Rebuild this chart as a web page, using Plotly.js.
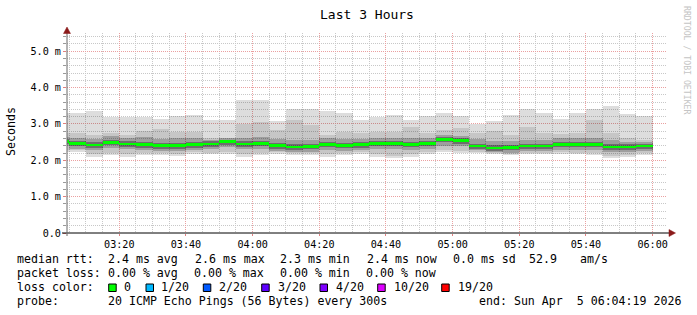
<!DOCTYPE html>
<html>
<head>
<meta charset="utf-8">
<script src="https://cdn.plot.ly/plotly-3.0.1.min.js"></script>
<style>html,body{margin:0;padding:0;background:#fff;}#chart{width:697px;height:315px;}</style>
</head>
<body>
<div id="chart"></div>
<script>
// interval start times (5 minute steps, 20 pings each)
const day = '2026-04-05 ';
const times = ['03:00','03:05','03:10','03:15','03:20','03:25','03:30','03:35','03:40','03:45','03:50','03:55',
               '04:00','04:05','04:10','04:15','04:20','04:25','04:30','04:35','04:40','04:45','04:50','04:55',
               '05:00','05:05','05:10','05:15','05:20','05:25','05:30','05:35','05:40','05:45','05:50','05:55'];
// smoke bands (ms)
const maxv = [3.30,3.30,3.36,3.18,3.19,3.19,3.13,3.21,3.25,3.10,3.10,3.65,3.65,3.08,3.40,3.40,3.35,3.30,3.10,3.19,3.24,3.10,3.21,3.29,3.21,3.01,3.08,3.24,3.41,3.29,3.13,3.30,3.41,3.50,3.27,3.21];
const hi2  = [2.75,2.75,2.70,2.76,2.70,2.80,2.86,2.77,2.79,2.62,2.62,3.01,3.06,2.83,3.10,2.97,2.70,2.79,2.76,2.79,2.79,2.92,2.75,2.83,2.90,2.76,2.80,2.70,2.92,2.76,2.72,2.74,3.10,2.75,2.60,2.55];
const hi3  = [2.64,2.60,2.58,2.66,2.62,2.63,2.58,2.60,2.60,2.57,2.62,2.62,2.63,2.58,2.55,2.56,2.60,2.58,2.58,2.62,2.62,2.62,2.62,2.70,2.68,2.58,2.52,2.52,2.56,2.56,2.60,2.60,2.62,2.55,2.50,2.50];
const hi4  = [2.58,2.52,2.49,2.55,2.52,2.50,2.47,2.48,2.50,2.52,2.57,2.52,2.53,2.47,2.44,2.45,2.51,2.48,2.50,2.53,2.53,2.51,2.53,2.63,2.61,2.46,2.41,2.42,2.46,2.46,2.51,2.51,2.51,2.44,2.44,2.46];
const med  = [2.52,2.46,2.42,2.49,2.45,2.43,2.40,2.40,2.43,2.45,2.51,2.45,2.46,2.40,2.37,2.38,2.44,2.41,2.43,2.46,2.46,2.44,2.46,2.57,2.54,2.39,2.34,2.35,2.39,2.39,2.44,2.44,2.44,2.37,2.37,2.39];
const lo4  = [2.44,2.38,2.34,2.41,2.37,2.35,2.32,2.32,2.35,2.37,2.43,2.37,2.38,2.32,2.29,2.30,2.36,2.33,2.35,2.38,2.38,2.36,2.38,2.49,2.46,2.31,2.26,2.27,2.31,2.31,2.36,2.36,2.36,2.29,2.29,2.31];
const lo3  = [2.38,2.32,2.27,2.34,2.30,2.29,2.26,2.25,2.29,2.31,2.36,2.30,2.31,2.26,2.23,2.24,2.29,2.26,2.29,2.30,2.30,2.29,2.31,2.40,2.38,2.27,2.22,2.21,2.25,2.25,2.29,2.28,2.28,2.22,2.22,2.25];
const lo2  = [2.28,2.28,2.16,2.20,2.16,2.20,2.20,2.18,2.22,2.21,2.22,2.16,2.20,2.22,2.20,2.19,2.16,2.19,2.22,2.16,2.12,2.16,2.22,2.28,2.26,2.24,2.20,2.18,2.21,2.21,2.22,2.21,2.19,2.13,2.15,2.19];
const minv = [2.23,2.23,2.10,2.14,2.10,2.14,2.15,2.12,2.17,2.16,2.16,2.10,2.14,2.17,2.14,2.14,2.10,2.14,2.17,2.10,2.05,2.10,2.17,2.22,2.20,2.20,2.17,2.14,2.17,2.17,2.17,2.17,2.14,2.07,2.10,2.14];

const yTickVals = [0, 1, 2, 3, 4, 5];
const yTickText = ['0.0', '1.0 m', '2.0 m', '3.0 m', '4.0 m', '5.0 m'];

const lossLabels = ['0', '1/20', '2/20', '3/20', '4/20', '10/20', '19/20'];
const lossColors = ['#00ff00', '#00b8ff', '#0059ff', '#5e00ff', '#7e00ff', '#dd00ff', '#ff0000'];

const statLine1 = ['median rtt:', '2.4 ms avg', '2.6 ms max', '2.3 ms min', '2.4 ms now', '0.0 ms sd', '52.9', 'am/s'];
const statLine2 = ['packet loss:', '0.00 % avg', '0.00 % max', '0.00 % min', '0.00 % now'];
const probeText = '20 ICMP Echo Pings (56 Bytes) every 300s';
const endText = 'end: Sun Apr\u00a0\u00a05 06:04:19 2026';

const X = times.map(t => day + t + ':00');
const STEP = 300000;
const FONT = 'DejaVu Sans Mono';

function band(lo, hi, color) {
  return {
    type: 'bar', x: X, base: lo, y: hi.map((v, i) => v - lo[i]),
    width: STEP, offset: 0, marker: {color: color, line: {width: 0}},
    hoverinfo: 'skip', showlegend: false
  };
}
const traces = [
  band(minv, maxv, 'rgba(0,0,0,0.135)'),
  band(lo2, hi2, 'rgba(0,0,0,0.10)'),
  band(lo3, hi3, 'rgba(0,0,0,0.20)'),
  band(lo4, hi4, 'rgba(0,0,0,0.30)'),
  band(med.map(v => v - 0.035), med.map(v => v + 0.035), '#00ff00')
];

// layout helpers: pixel -> paper
const L = 67, R = 667, T = 33, B = 233;
const px = v => (v - L) / (R - L);
const py = v => (B - v) / (B - T);
const P = (x, y) => px(x).toFixed(5) + ',' + py(y).toFixed(5);

const ann = [];
function txt(x, y, s, opts) {
  ann.push(Object.assign({xref: 'paper', yref: 'paper', x: px(x), y: py(y), text: s, showarrow: false,
    xanchor: 'left', yanchor: 'middle', font: {family: FONT, size: 11.6, color: '#000'}, borderpad: 0}, opts || {}));
}
const line1X = [16, 107.3, 194, 279.3, 365.7, 451.7, 528.3, 579.3];
statLine1.forEach((s, i) => txt(line1X[i], 259, s));
const line2X = [16, 107.3, 193.3, 279.3, 365];
statLine2.forEach((s, i) => txt(line2X[i], 273, s));
txt(16, 287, 'loss color:');
const boxX = [108.7, 146, 203.3, 261.7, 320, 377.7, 441.7];
const labX = [123.3, 160, 218.3, 276.7, 335, 393.3, 456.7];
lossLabels.forEach((s, i) => txt(labX[i], 287, s));
txt(16, 301, 'probe:');
txt(107.3, 301, probeText);
txt(478.3, 301, endText);
// y title
ann.push({xref: 'paper', yref: 'paper', x: px(11), y: py(132), text: 'Seconds', textangle: -90, showarrow: false,
  xanchor: 'center', yanchor: 'middle', font: {family: FONT, size: 11.6, color: '#000'}});
// watermark
ann.push({xref: 'paper', yref: 'paper', x: px(687), y: py(60), text: 'RRDTOOL / TOBI OETIKER', textangle: 90, showarrow: false,
  xanchor: 'center', yanchor: 'middle', font: {family: FONT, size: 8.2, color: '#c4c4c4'}});

const shapes = [];
lossColors.forEach((c, i) => {
  shapes.push({type: 'rect', xref: 'paper', yref: 'paper', x0: px(boxX[i]), x1: px(boxX[i] + 7.5), y0: py(284), y1: py(291.5),
    fillcolor: c, line: {color: '#000', width: 1}});
});
// x axis line with arrow
shapes.push({type: 'line', xref: 'paper', yref: 'paper', x0: px(62), x1: px(670), y0: 0, y1: 0, line: {color: '#000', width: 1}});
shapes.push({type: 'path', xref: 'paper', yref: 'paper',
  path: 'M' + P(669, 229.5) + ' L' + P(675.5, 233) + ' L' + P(669, 236.5) + ' Z',
  fillcolor: '#8b1a1a', line: {color: '#8b1a1a', width: 0.5}});
// y axis line with arrow
shapes.push({type: 'line', xref: 'paper', yref: 'paper', x0: 0, x1: 0, y0: py(236), y1: py(32), line: {color: '#666', width: 1}});
shapes.push({type: 'path', xref: 'paper', yref: 'paper',
  path: 'M' + P(63.5, 33.5) + ' L' + P(67, 27) + ' L' + P(70.5, 33.5) + ' Z',
  fillcolor: '#8b1a1a', line: {color: '#8b1a1a', width: 0.5}});

const layout = {
  width: 697, height: 315,
  margin: {l: L, r: 697 - R, t: T, b: 315 - B, pad: 0},
  paper_bgcolor: '#ffffff', plot_bgcolor: '#ffffff',
  barmode: 'overlay', bargap: 0, showlegend: false,
  title: {text: 'Last 3 Hours', x: px(367), xref: 'paper', xanchor: 'center', y: 1 - 14 / 315, yref: 'container', yanchor: 'middle',
    font: {family: FONT, size: 13, color: '#000'}},
  xaxis: {
    type: 'date', range: [day + '03:04:19', day + '06:04:19'],
    tick0: day + '03:00:00', dtick: 1200000, tickformat: '%H:%M',
    showgrid: true, gridcolor: '#eaa0a0', griddash: '1px,1px', gridwidth: 1,
    ticks: 'outside', ticklen: 2, tickcolor: '#e08080',
    minor: {dtick: STEP, showgrid: true, gridcolor: '#c8c8c8', griddash: '1px,1px', ticks: '', gridwidth: 1},
    showline: false, zeroline: false, fixedrange: true,
    tickfont: {family: FONT, size: 10.15, color: '#000'}
  },
  yaxis: {
    range: [0, 5.5], tickvals: yTickVals, ticktext: yTickText,
    showgrid: true, gridcolor: '#eaa0a0', griddash: '1px,1px', gridwidth: 1,
    ticks: 'outside', ticklen: 3, tickcolor: '#e08080',
    minor: {tickvals: [0.2,0.4,0.6,0.8,1.2,1.4,1.6,1.8,2.2,2.4,2.6,2.8,3.2,3.4,3.6,3.8,4.2,4.4,4.6,4.8,5.2,5.4],
      showgrid: true, gridcolor: '#c8c8c8', griddash: '1px,1px', ticks: 'outside', ticklen: 3, tickcolor: '#999'},
    showline: false, zeroline: false, fixedrange: true,
    tickfont: {family: FONT, size: 10.15, color: '#000'}
  },
  annotations: ann,
  shapes: shapes
};

Plotly.newPlot('chart', traces, layout, {staticPlot: true, displayModeBar: false});
</script>
</body>
</html>
